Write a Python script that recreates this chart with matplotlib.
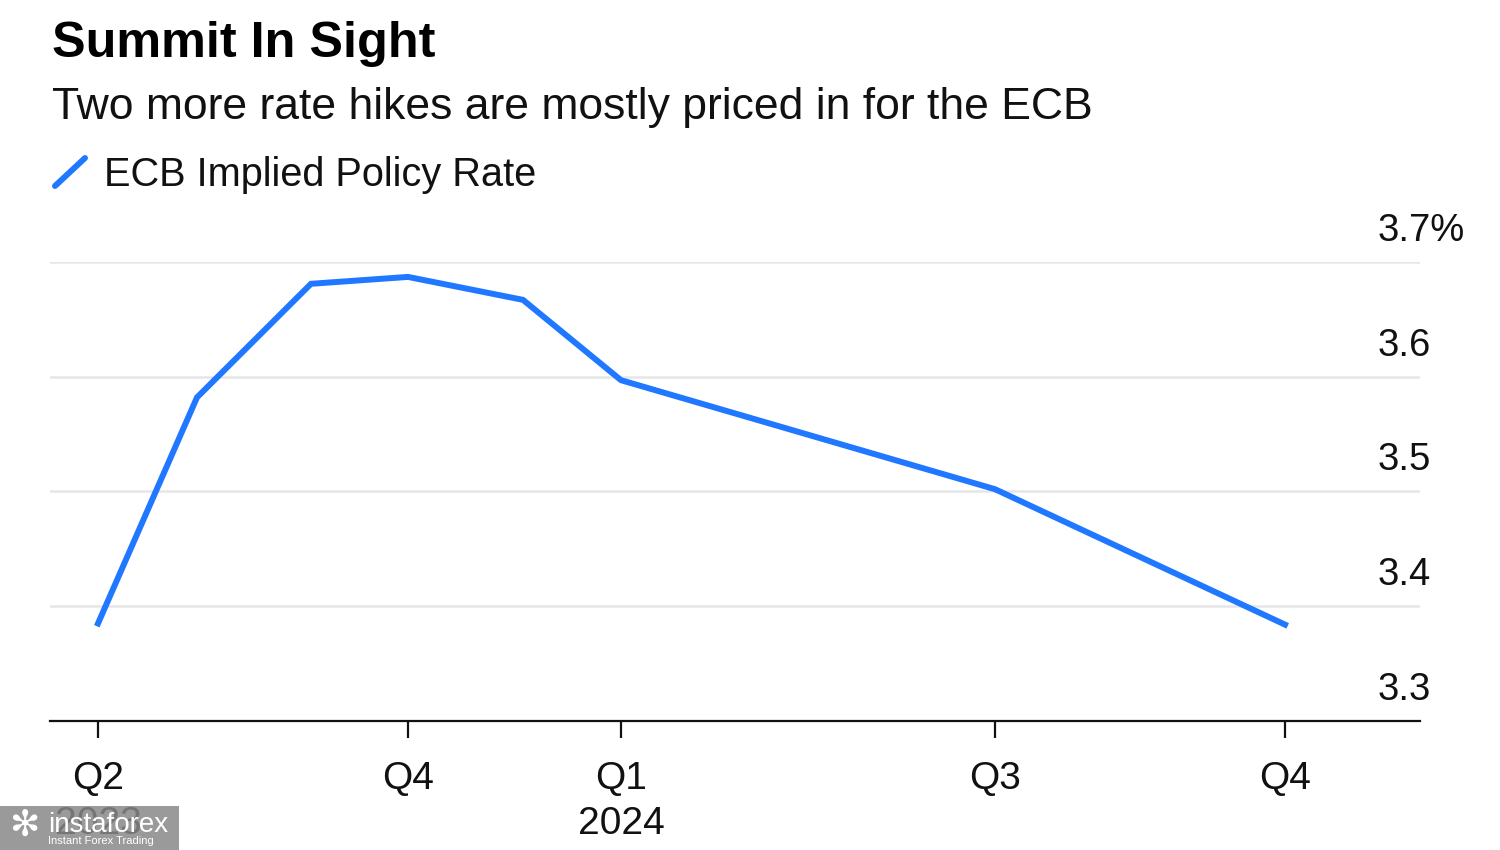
import matplotlib
matplotlib.use("Agg")
import matplotlib.pyplot as plt
from matplotlib.patches import Rectangle

# ---- data ----
x_pos = [0, 99, 213, 310, 425, 523, 897, 1187]          # horizontal position (chart units)
rate = [3.385, 3.582, 3.681, 3.687, 3.667, 3.597, 3.502, 3.384]
tick_pos = [0, 310, 523, 897, 1187]
tick_labels = ["Q2\n2023", "Q4", "Q1\n2024", "Q3", "Q4"]
y_ticks = [3.3, 3.4, 3.5, 3.6, 3.7]
y_labels = ["3.3", "3.4", "3.5", "3.6", "3.7%"]

title = "Summit In Sight"
subtitle = "Two more rate hikes are mostly priced in for the ECB"
series_name = "ECB Implied Policy Rate"

BLUE = "#1f78ff"
plt.rcParams['font.family'] = ['Liberation Sans', 'DejaVu Sans']

fig = plt.figure(figsize=(15, 8.5), dpi=100)
W, H = 1500, 850
ax = fig.add_axes([50 / W, 1 - 721 / H, (1420 - 50) / W, (721 - 262) / H])

ax.plot(x_pos, rate, color=BLUE, lw=4.3, solid_joinstyle='miter', clip_on=False, zorder=3)
ax.set_ylim(3.3, 3.7)
ax.set_xlim(-48, 1322)

for s in ["top", "right", "left"]:
    ax.spines[s].set_visible(False)
ax.spines["bottom"].set_linewidth(1.6)
ax.spines["bottom"].set_color("#111111")

ax.set_yticks(y_ticks)
ax.yaxis.grid(True, color="#e6e6e6", lw=1.8)
ax.tick_params(axis='y', length=0, labelleft=False, labelright=False)
for v, lab in zip(y_ticks, y_labels):
    ax.annotate(lab, xy=(1, v), xycoords=('axes fraction', 'data'),
                xytext=(-42, 21), textcoords='offset pixels',
                ha='left', va='baseline', fontsize=27.5, color='#111111')

ax.set_xticks(tick_pos)
ax.set_xticklabels(tick_labels, fontsize=28, color='#111111', linespacing=1.32)
ax.tick_params(axis='x', length=12, width=1.6, color='#111111', pad=17)
ax.set_axisbelow(True)

fig.text(52 / W, 1 - 44 / H, title, fontsize=36.3, fontweight='bold', va='center', ha='left', color='#000000')
fig.text(52 / W, 1 - 108 / H, subtitle, fontsize=32, va='center', ha='left', color='#111111')
fig.lines.append(plt.Line2D([55 / W, 85 / W], [1 - 186 / H, 1 - 158 / H], transform=fig.transFigure,
                            color=BLUE, lw=4.3, solid_capstyle='round'))
fig.text(104 / W, 1 - 175 / H, series_name, fontsize=28.6, va='center', ha='left', color='#111111')

# watermark
fig.patches.append(Rectangle((0, 0), 179 / W, 44 / H, transform=fig.transFigure,
                             facecolor='#888888', alpha=0.85, edgecolor='none', zorder=10))
fig.text(48 / W, 1 - 825 / H, "instaforex", fontsize=20, color='white', va='center', ha='left', zorder=11)
fig.text(48 / W, 1 - 841 / H, "Instant Forex Trading", fontsize=8, color='white', va='center', ha='left', zorder=11)
fig.text(24 / W, 1 - 826 / H, "✻", fontsize=26, color='white', va='center', ha='center', zorder=11,
         family=['DejaVu Sans'])

fig.savefig("out.png", dpi=100, facecolor='white')
